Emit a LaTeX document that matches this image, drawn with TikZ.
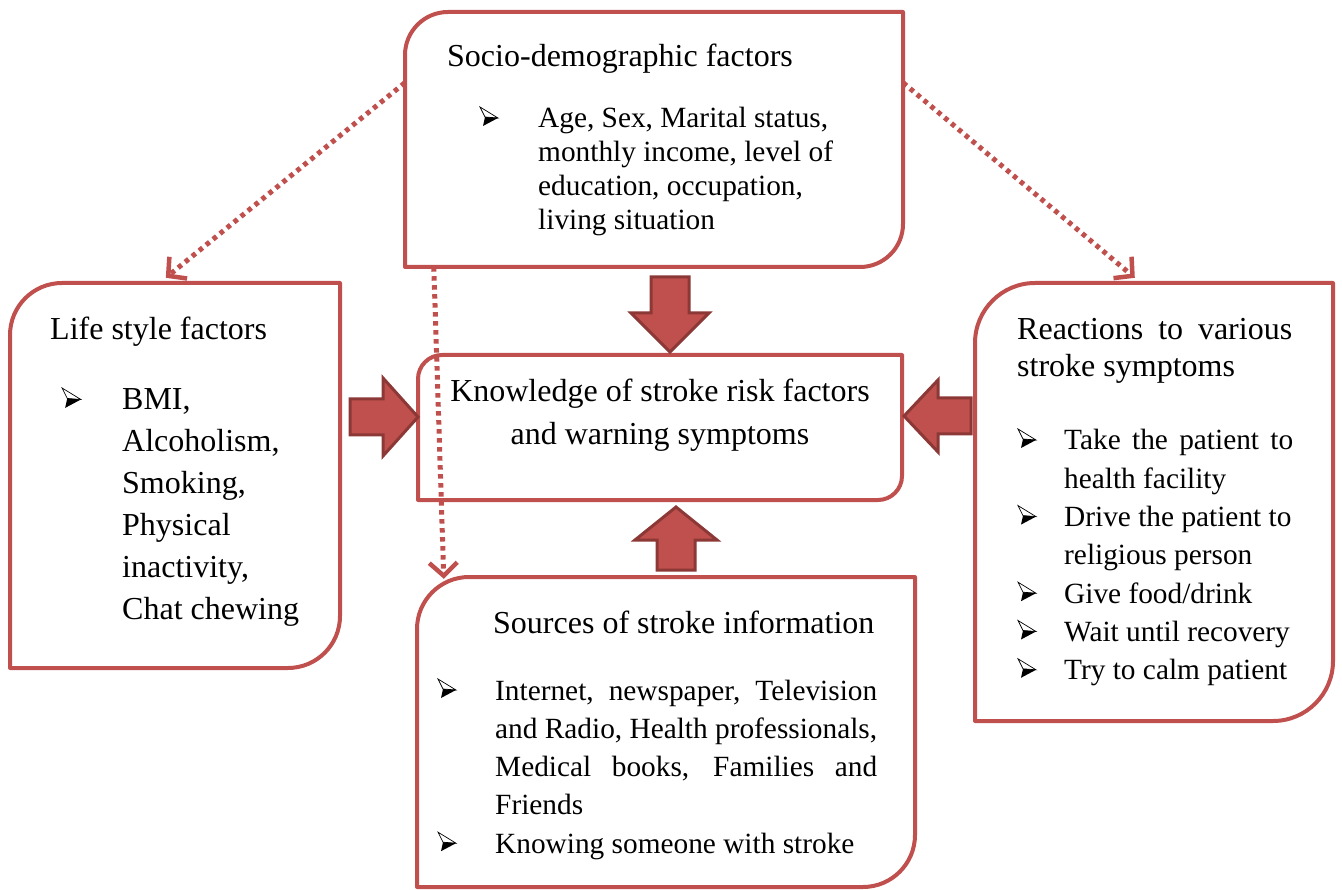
\documentclass[tikz,border=0pt]{standalone}
\usepackage{fontspec}
\setmainfont{Liberation Serif}
\usetikzlibrary{arrows.meta}
\definecolor{boxred}{RGB}{192,80,77}
\definecolor{arrdark}{RGB}{140,56,54}
\definecolor{arrfill}{RGB}{192,80,77}
\newcommand\dbox[6]{%
  \node[inner sep=0pt, minimum width={#4-#2}, minimum height={#5-#3}] (#1) at ({(#2+#4)/2},{(#3+#5)/2}) {};
  \draw[boxline] (#2,#5) -- (#2,#3+#6) .. controls (#2,#3+0.448*#6) and (#2+0.448*#6,#3) .. (#2+#6,#3) -- (#4,#3) -- (#4,#5-#6) .. controls (#4,#5-0.448*#6) and (#4-0.448*#6,#5) .. (#4-#6,#5) -- cycle;}
\tikzset{
  boxline/.style={draw=boxred, line width=4pt, line join=round},
  blockarrow/.style={fill=arrfill, draw=arrdark, line width=3pt, line join=miter},
  dotarrow/.style={draw=boxred, line width=5pt, dash pattern=on 4.5pt off 4.5pt,
     -{Straight Barb[length=13pt,width=28pt,line width=4.5pt]}},
  txt/.style={anchor=base west, inner sep=0pt, font=\fontsize{32}{34}\selectfont},
  small/.style={anchor=base west, inner sep=0pt, font=\fontsize{29.33}{#1}\selectfont},
  bulletpic/.pic={
    \draw[black, line width=0.7pt, fill=white, line join=miter] (0,-21) -- (18,-10) -- (5,-11) -- cycle;
    \fill[black] (5,-11) -- (18,-10) -- (3,-2) -- cycle;
  },
}
\begin{document}
\begin{tikzpicture}[x=1pt,y=-1pt]
\useasboundingbox (0,0) rectangle (1342,890);
% boxes
\dbox{soc}{405}{12}{903}{267}{43}
\dbox{life}{10}{283}{340}{668}{52}
\dbox{know}{418}{355}{902}{500}{24}
\dbox{react}{975}{283}{1333}{721}{60}
\dbox{src}{417}{577}{915}{887}{52}
% block arrows
\draw[blockarrow] (651,277) -- (689,277) -- (689,313) -- (709,313) -- (670,352) -- (631,313) -- (651,313) -- cycle;
\draw[blockarrow] (657,570) -- (695,570) -- (695,540) -- (717,540) -- (676,507) -- (635,540) -- (657,540) -- cycle;
\draw[blockarrow] (350,399) -- (350,435) -- (383,435) -- (383,456) -- (418,417) -- (383,378) -- (383,399) -- cycle;
\draw[blockarrow] (971,398) -- (971,434) -- (938,434) -- (938,452) -- (904,416) -- (938,380) -- (938,398) -- cycle;
% dotted connectors
\draw[dotarrow] ([yshift=-71pt]soc.north west) -- ([xshift=156pt,yshift=5pt]life.north west);
\draw[dotarrow] ([yshift=-71pt]soc.north east) -- ([xshift=160pt,yshift=5pt]react.north west);
\draw[dotarrow] ([xshift=29pt]soc.south west) -- ([xshift=27pt,yshift=-2pt]src.north west);
% bullets
\pic at (480,128) {bulletpic};
\pic[scale=1.05] at (62,410) {bulletpic};
\pic at (1018,450) {bulletpic};
\pic at (1018,526.6) {bulletpic};
\pic at (1018,603.2) {bulletpic};
\pic at (1018,641.5) {bulletpic};
\pic at (1018,679.8) {bulletpic};
\pic at (438,700) {bulletpic};
\pic at (438,853.2) {bulletpic};
% texts
\node[txt] (socT) at (447,67) {Socio-demographic factors};
\node[small=34] (socB) at (538,128) {\begin{tabular}[t]{@{}l@{}}Age, Sex, Marital status,\\ monthly income, level of\\ education, occupation,\\ living situation\end{tabular}};
\node[txt] (lifeT) at (50,340) {Life style factors};
\node[txt, font=\fontsize{32}{42}\selectfont] (lifeB) at (122,410) {\begin{tabular}[t]{@{}l@{}}BMI,\\ Alcoholism,\\ Smoking,\\ Physical\\ inactivity,\\ Chat chewing\end{tabular}};
\node[anchor=base, inner sep=0pt, font=\fontsize{32}{43}\selectfont] (knowT) at (660,402) {\begin{tabular}[t]{@{}c@{}}Knowledge of stroke risk factors\\ and warning symptoms\end{tabular}};
\node[txt, font=\fontsize{32}{37}\selectfont] (reactT) at (1017,340) {\begin{tabular}[t]{@{}l@{}}\makebox[275pt][s]{Reactions to various}\\ stroke symptoms\end{tabular}};
\node[small=38.3] (reactB) at (1064,450) {\begin{tabular}[t]{@{}l@{}}\makebox[229pt][s]{Take the patient to}\\ health facility\\ Drive the patient to\\ religious person\\ Give food/drink\\ Wait until recovery\\ Try to calm patient\end{tabular}};
\node[txt] (srcT) at (493,633) {Sources of stroke information};
\node[small=38.3] (srcB) at (495,700) {\begin{tabular}[t]{@{}l@{}}\makebox[382pt][s]{Internet, newspaper, Television}\\ \makebox[382pt][s]{and Radio, Health professionals,}\\ \makebox[382pt][s]{Medical books, Families and}\\ Friends\\ Knowing someone with stroke\end{tabular}};
\end{tikzpicture}
\end{document}
